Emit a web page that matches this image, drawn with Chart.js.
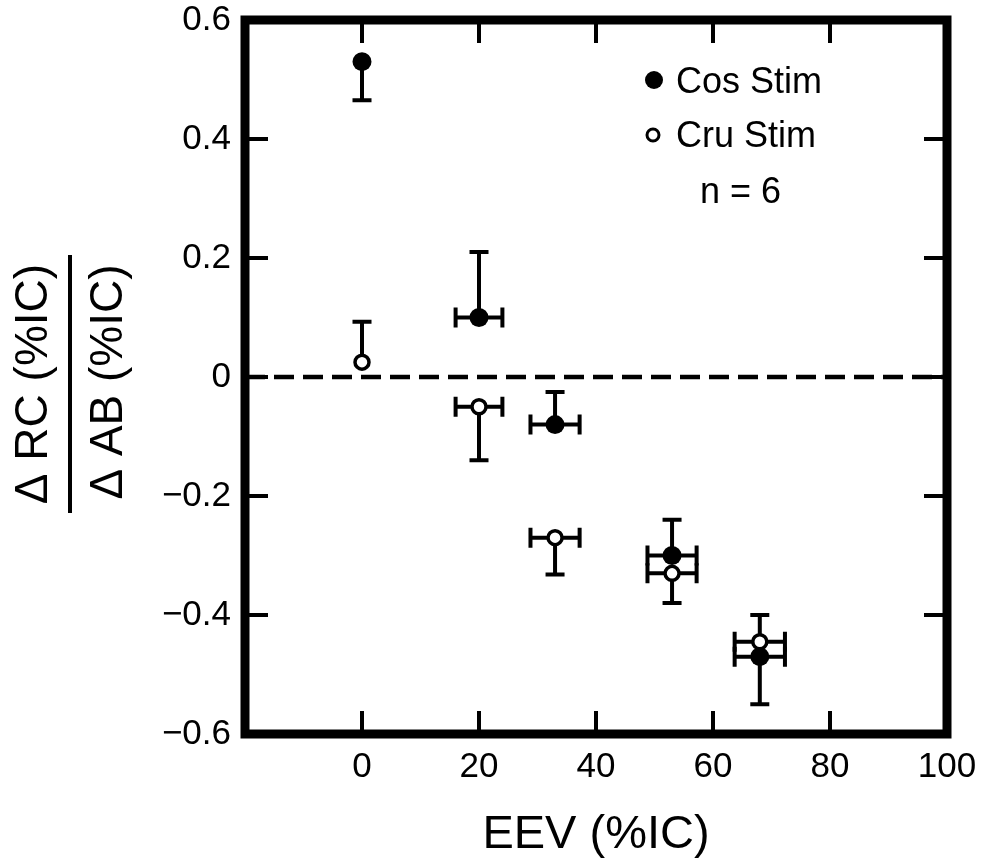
<!DOCTYPE html>
<html>
<head>
<meta charset="utf-8">
<script src="https://cdn.jsdelivr.net/npm/chart.js@4.4.1/dist/chart.umd.min.js"></script>
<style>
  body { margin: 0; background: #fff; }
  #wrap { width: 995px; height: 863px; }
</style>
</head>
<body>
<div id="wrap"><canvas id="chart"></canvas></div>
<script>
// EEV (%IC) for each point, shared by both series, with its x error
var eev = [0, 20, 33, 53, 68];
var eevErr = [0, 4, 4.2, 4.2, 4.3];

// Cos Stim (filled) and where its one-sided y error bar ends
var cosStim = [0.53, 0.10, -0.08, -0.30, -0.47];
var cosStimBarEnd = [0.465, 0.21, -0.025, -0.24, -0.55];

// Cru Stim (open) and where its one-sided y error bar ends
var cruStim = [0.025, -0.05, -0.27, -0.33, -0.445];
var cruStimBarEnd = [0.093, -0.14, -0.332, -0.38, -0.40];

var seriesNames = ["Cos Stim", "Cru Stim"];
var noteText = "n = 6";

var xTicks = [-20, 0, 20, 40, 60, 80, 100];
var yTicks = [-0.6, -0.4, -0.2, 0, 0.2, 0.4, 0.6];
var zeroLine = [0, 0];

var FONT = "'Liberation Sans', Arial, Helvetica, sans-serif";
Chart.defaults.color = "#000";
Chart.defaults.font.family = FONT;

function points(ys) {
  return eev.map(function (x, i) { return { x: x, y: ys[i] }; });
}

// error bars, drawn under the markers
var errorBars = {
  id: "errorBars",
  beforeDatasetsDraw: function (chart) {
    var ctx = chart.ctx, xs = chart.scales.x, ys = chart.scales.y;
    ctx.save();
    ctx.strokeStyle = "#000";
    ctx.lineWidth = 4;
    ctx.lineCap = "butt";
    [[cosStim, cosStimBarEnd], [cruStim, cruStimBarEnd]].forEach(function (s) {
      for (var i = 0; i < eev.length; i++) {
        var px = xs.getPixelForValue(eev[i]);
        var py = ys.getPixelForValue(s[0][i]);
        var pe = ys.getPixelForValue(s[1][i]);
        ctx.beginPath();
        ctx.moveTo(px, py); ctx.lineTo(px, pe);
        ctx.moveTo(px - 9.5, pe); ctx.lineTo(px + 9.5, pe);
        ctx.stroke();
        if (eevErr[i] > 0) {
          var l = xs.getPixelForValue(eev[i] - eevErr[i]);
          var r = xs.getPixelForValue(eev[i] + eevErr[i]);
          ctx.beginPath();
          ctx.moveTo(l, py); ctx.lineTo(r, py);
          ctx.moveTo(l, py - 10); ctx.lineTo(l, py + 10);
          ctx.moveTo(r, py - 10); ctx.lineTo(r, py + 10);
          ctx.stroke();
        }
      }
    });
    ctx.restore();
  }
};

// heavy frame, inward ticks, legend box text and fraction y title
var decor = {
  id: "decor",
  afterDraw: function (chart) {
    var ctx = chart.ctx, a = chart.chartArea;
    var xs = chart.scales.x, ys = chart.scales.y;
    ctx.save();
    ctx.strokeStyle = "#000";
    ctx.fillStyle = "#000";

    ctx.lineWidth = 4;
    ctx.beginPath();
    xTicks.slice(1, -1).forEach(function (v) {
      var px = xs.getPixelForValue(v);
      ctx.moveTo(px, a.top); ctx.lineTo(px, a.top + 23);
      ctx.moveTo(px, a.bottom); ctx.lineTo(px, a.bottom - 23);
    });
    yTicks.slice(1, -1).forEach(function (v) {
      var py = ys.getPixelForValue(v);
      ctx.moveTo(a.left, py); ctx.lineTo(a.left + 23, py);
      ctx.moveTo(a.right, py); ctx.lineTo(a.right - 23, py);
    });
    ctx.stroke();

    ctx.lineWidth = 9;
    ctx.lineJoin = "miter";
    ctx.strokeRect(a.left, a.top, a.right - a.left, a.bottom - a.top);

    // legend
    ctx.beginPath();
    ctx.arc(654, 80, 9, 0, Math.PI * 2);
    ctx.fill();
    ctx.lineWidth = 3;
    ctx.beginPath();
    ctx.arc(653, 135, 6, 0, Math.PI * 2);
    ctx.stroke();
    ctx.font = "36px " + FONT;
    ctx.textBaseline = "alphabetic";
    ctx.textAlign = "left";
    ctx.fillText(seriesNames[0], 676, 93);
    ctx.fillText(seriesNames[1], 676, 147);
    ctx.fillText(noteText, 700, 203);

    // y title as a fraction
    ctx.font = "46px " + FONT;
    ctx.textAlign = "center";
    ctx.textBaseline = "middle";
    ctx.save();
    ctx.translate(34, 384);
    ctx.rotate(-Math.PI / 2);
    ctx.fillText("\u0394 RC (%IC)", 0, 0);
    ctx.restore();
    ctx.save();
    ctx.translate(109, 382);
    ctx.rotate(-Math.PI / 2);
    ctx.fillText("\u0394 AB (%IC)", 0, 0);
    ctx.restore();
    ctx.lineWidth = 4;
    ctx.beginPath();
    ctx.moveTo(70, 255); ctx.lineTo(70, 513);
    ctx.stroke();
    ctx.restore();
  }
};

new Chart(document.getElementById("chart"), {
  type: "scatter",
  data: {
    datasets: [
      {
        label: seriesNames[1],
        data: points(cruStim),
        order: 0,
        pointRadius: 7,
        pointBackgroundColor: "#fff",
        pointBorderColor: "#000",
        pointBorderWidth: 3.5
      },
      {
        label: seriesNames[0],
        data: points(cosStim),
        order: 1,
        pointRadius: 9.5,
        pointBackgroundColor: "#000",
        pointBorderColor: "#000",
        pointBorderWidth: 0
      },
      {
        type: "line",
        label: "zero",
        data: [{ x: xTicks[0], y: zeroLine[0] }, { x: xTicks[xTicks.length - 1], y: zeroLine[1] }],
        order: 5,
        borderColor: "#000",
        borderWidth: 4.5,
        borderDash: [20, 9],
        pointRadius: 0,
        fill: false
      }
    ]
  },
  options: {
    responsive: true,
    maintainAspectRatio: false,
    animation: false,
    layout: { padding: { top: 20, right: 48, left: 0, bottom: 0 } },
    plugins: {
      legend: { display: false },
      tooltip: { enabled: false }
    },
    scales: {
      x: {
        type: "linear",
        min: -20,
        max: 100,
        afterBuildTicks: function (scale) {
          scale.ticks = xTicks.map(function (v) { return { value: v }; });
        },
        afterFit: function (scale) {
          scale.height = 129;
          scale.paddingLeft = 0;
          scale.paddingRight = 0;
        },
        grid: { display: false, drawTicks: false },
        border: { display: false },
        ticks: {
          autoSkip: false,
          maxRotation: 0,
          padding: 12,
          font: { size: 35 },
          callback: function (v) { return v === -20 ? "" : String(v); }
        },
        title: {
          display: true,
          text: "EEV (%IC)",
          font: { size: 47 },
          padding: { top: 0, bottom: 0 }
        }
      },
      y: {
        type: "linear",
        min: -0.6,
        max: 0.6,
        afterBuildTicks: function (scale) {
          scale.ticks = yTicks.map(function (v) { return { value: v }; });
        },
        afterFit: function (scale) {
          scale.width = 245;
          scale.paddingTop = 0;
          scale.paddingBottom = 0;
        },
        grid: { display: false, drawTicks: false },
        border: { display: false },
        ticks: {
          autoSkip: false,
          padding: 14,
          font: { size: 35 },
          callback: function (v) {
            if (Math.abs(v) < 1e-9) return "0";
            return (v < 0 ? "\u2212" : "") + Math.abs(v).toFixed(1);
          }
        }
      }
    }
  },
  plugins: [errorBars, decor]
});
</script>
</body>
</html>
